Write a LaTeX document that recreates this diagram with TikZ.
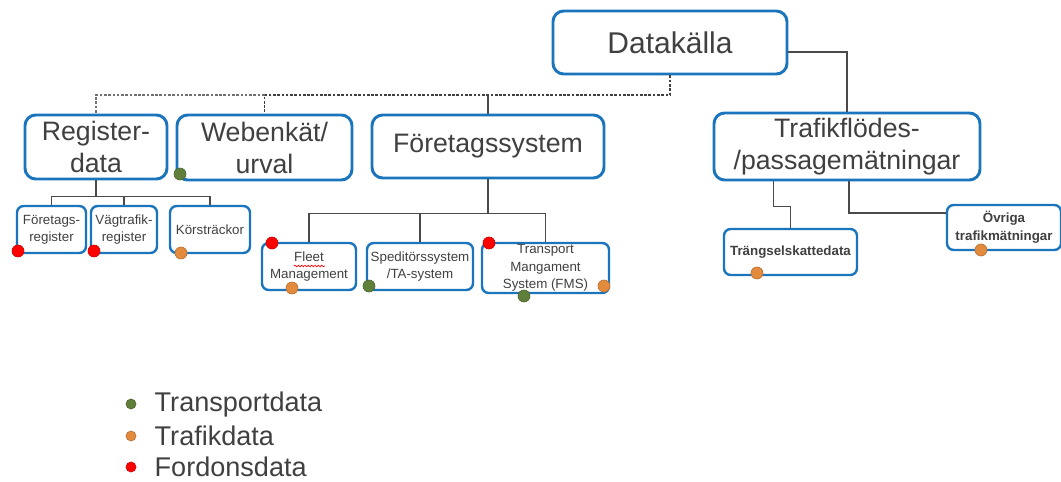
\documentclass[tikz,border=0pt]{standalone}
\usepackage{fontspec}
\setmainfont{Liberation Sans}
\usetikzlibrary{decorations.pathmorphing}
\definecolor{boxblue}{HTML}{1B75BC}
\definecolor{txtgray}{HTML}{404040}
\definecolor{linegray}{HTML}{4A4A4A}
\definecolor{dashgray}{HTML}{707070}
\definecolor{tgreen}{HTML}{5F7F3B}
\definecolor{torange}{HTML}{E38B3D}
\definecolor{fred}{HTML}{FF0000}
\begin{document}
\begin{tikzpicture}[x=0.75pt,y=-0.75pt,
 dims/.style n args={2}{minimum width=#1*0.75pt,minimum height=#2*0.75pt},
 bigbox/.style={draw=boxblue,line width=2.2pt,rounded corners=8pt,fill=white,align=center,text=txtgray,inner sep=0pt,font=\fontsize{20}{24}\selectfont},
 smallbox/.style={draw=boxblue,line width=1.8pt,rounded corners=5pt,fill=white,align=center,text=txtgray,inner sep=0pt,font=\fontsize{10}{13}\selectfont},
 link/.style={draw=linegray,line width=1.1pt},
 dlink/.style={draw=#1,line width=1.1pt,dash pattern=on 2pt off 1.2pt},
 srcdot/.style={circle,inner sep=0pt,minimum size=9pt,fill=#1,draw=#1!80!black,line width=0.5pt}]
\useasboundingbox (0,0) rectangle (1061,482);
% top level
\node[bigbox,dims={234}{63},font=\fontsize{22.5}{26}\selectfont] (dk) at (670,42.5){Datakälla};
\node[bigbox,dims={142}{64}] (reg) at (96,147){Register-\\data};
\node[bigbox,dims={175}{65}] (web) at (264.5,147.5){Webenkät/\\urval};
\node[bigbox,dims={232}{63}] (fs) at (488,146.5){Företagssystem};
\node[bigbox,dims={266}{67}] (tf) at (847,146.5){Trafikflödes-\\/passagemätningar};
% second level
\node[smallbox,dims={69}{47}] (freg) at (51.5,229.5){Företags-\\register};
\node[smallbox,dims={66}{47}] (vreg) at (124,229.5){Vägtrafik-\\register};
\node[smallbox,dims={80}{47}] (kors) at (210,229.5){Körsträckor};
\node[smallbox,dims={94}{47}] (fleet) at (309,266.5){Fleet\\Management};
\node[smallbox,dims={106}{47}] (sped) at (420,266.5){Speditörssystem\\/TA-system};
\node[smallbox,dims={127}{50},font=\fontsize{10}{13}\selectfont] (tms) at (545.5,268){Transport\\Mangament\\System (FMS)};
\node[smallbox,dims={133}{46},font=\bfseries\fontsize{10}{13}\selectfont] (trang) at (790.5,252){Trängselskattedata};
\node[smallbox,dims={114}{45},font=\bfseries\fontsize{10}{13.5}\selectfont] (ovr) at (1004,227.5){Övriga\\trafikmätningar};
% connectors
\coordinate (j1) at (670,95);
\draw[dlink=black!75] (dk.south) -- (j1) -| (web.north);
\draw[dlink=dashgray] (web.north |- j1) -| (reg.north);
\draw[link] (j1 -| fs.north) -- (fs.north);
\draw[link] ([yshift=-7pt]dk.east) -| (tf.north);
\draw[link,line width=2pt] (reg.south) -- ++(0,16) coordinate (r1);
\foreach \n in {freg,vreg,kors} \draw[link] (r1) -| (\n.north);
\draw[link,line width=1.6pt] (fs.south) -- ++(0,34) coordinate (f1);
\foreach \n in {fleet,sped,tms} \draw[link] (f1) -| (\n.north);
\draw[link] ([xshift=-55pt]tf.south) -- ++(0,25) -| (trang.north);
\draw[link] ([xshift=1.5pt]tf.south) |- ([yshift=11pt]ovr.west);
% spell check mark
\draw[fred,line width=0.5pt,decorate,decoration={snake,amplitude=0.6pt,segment length=2.5pt}] (294,266) -- (325,266);
% data dots
\foreach \c/\x/\y in {tgreen/180/174,fred/18/251,fred/94/251,torange/181/253,
 fred/272/243,torange/292/288,tgreen/369/286,fred/489/243,tgreen/524/296,
 torange/604/286,torange/757/273,torange/981/250}
 \node[srcdot=\c] at (\x,\y){};
% legend
\foreach \c/\y/\t in {tgreen/404/Transportdata,torange/436/Trafikdata,fred/467/Fordonsdata}{
 \node[srcdot=\c,minimum size=7.5pt] (lg\t) at (131,\y){};
 \node[anchor=west,text=txtgray,font=\fontsize{20.3}{24}\selectfont] at (150,\y){\t};
}
\end{tikzpicture}
\end{document}
